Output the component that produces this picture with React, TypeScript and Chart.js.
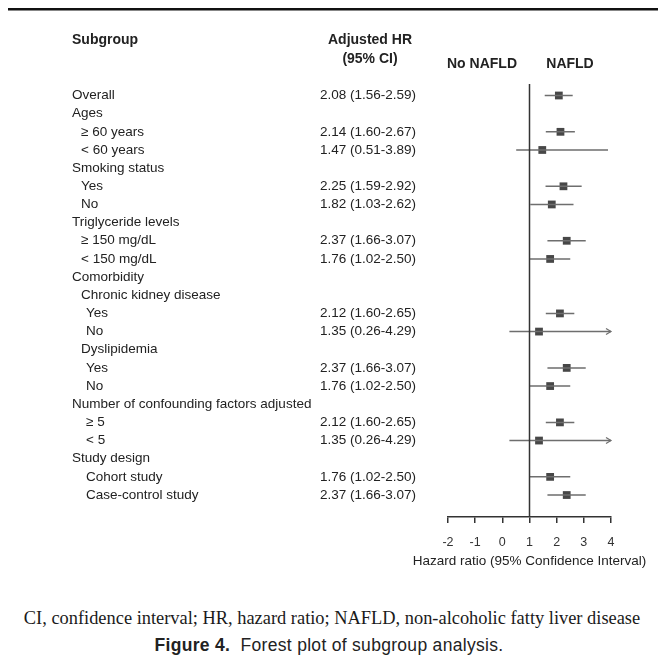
import { useEffect, useRef } from "react";
import { Chart, registerables } from "chart.js";

Chart.register(...registerables);

// ---------- data ----------
const subgroupLabels = [
  "Overall",
  "Ages",
  "≥ 60 years",
  "< 60 years",
  "Smoking status",
  "Yes",
  "No",
  "Triglyceride levels",
  "≥ 150 mg/dL",
  "< 150 mg/dL",
  "Comorbidity",
  "Chronic kidney disease",
  "Yes",
  "No",
  "Dyslipidemia",
  "Yes",
  "No",
  "Number of confounding factors adjusted",
  "≥ 5",
  "< 5",
  "Study design",
  "Cohort study",
  "Case-control study",
];
const indentLevels = [0, 0, 1, 1, 0, 1, 1, 0, 1, 1, 0, 1, 2, 2, 1, 2, 2, 0, 2, 2, 0, 2, 2];
const hrValues: (number | null)[] = [
  2.08, null, 2.14, 1.47, null, 2.25, 1.82, null, 2.37, 1.76, null, null,
  2.12, 1.35, null, 2.37, 1.76, null, 2.12, 1.35, null, 1.76, 2.37,
];
const ciLower: (number | null)[] = [
  1.56, null, 1.6, 0.51, null, 1.59, 1.03, null, 1.66, 1.02, null, null,
  1.6, 0.26, null, 1.66, 1.02, null, 1.6, 0.26, null, 1.02, 1.66,
];
const ciUpper: (number | null)[] = [
  2.59, null, 2.67, 3.89, null, 2.92, 2.62, null, 3.07, 2.5, null, null,
  2.65, 4.29, null, 3.07, 2.5, null, 2.65, 4.29, null, 2.5, 3.07,
];
const xAxisMin = -2;
const xAxisMax = 4;
const xTickStep = 1;
const referenceValue = 1;
const headerSubgroup = "Subgroup";
const headerHR = ["Adjusted HR", "(95% CI)"];
const headerLeftGroup = "No NAFLD";
const headerRightGroup = "NAFLD";
const xAxisTitle = "Hazard ratio (95% Confidence Interval)";
const footnote = "CI, confidence interval; HR, hazard ratio; NAFLD, non-alcoholic fatty liver disease";
const captionBold = "Figure 4.";
const captionText = "Forest plot of subgroup analysis.";

// ---------- styling / layout ----------
const FONT = "'Liberation Sans', Arial, Helvetica, sans-serif";
const TEXT_COLOR = "#222";
const CI_COLOR = "#6e6e6e";
const MARK_COLOR = "#474747";
const AXIS_COLOR = "#333";
const Y_MIN = -0.633;
const Y_MAX = 23.21;
const INDENT_PX = [72, 81, 86];
const VALUE_X = 320;

const fmt = (v: number) => v.toFixed(2);

const forestTablePlugin = {
  id: "forestTable",
  afterDatasetsDraw(chart: any) {
    const { ctx, scales } = chart;
    const x = scales.x;
    const y = scales.y;
    ctx.save();
    ctx.strokeStyle = CI_COLOR;
    ctx.lineWidth = 1.2;
    hrValues.forEach((hr, i) => {
      if (hr == null) return;
      const up = ciUpper[i] as number;
      const py = y.getPixelForValue(i);
      if (up > x.max) {
        const px = x.getPixelForValue(x.max);
        ctx.beginPath();
        ctx.moveTo(px - 5, py - 3);
        ctx.lineTo(px, py);
        ctx.lineTo(px - 5, py + 3);
        ctx.stroke();
      }
      const lo = ciLower[i] as number;
      if (lo < x.min) {
        const px = x.getPixelForValue(x.min);
        ctx.beginPath();
        ctx.moveTo(px + 5, py - 3);
        ctx.lineTo(px, py);
        ctx.lineTo(px + 5, py + 3);
        ctx.stroke();
      }
    });
    ctx.restore();
  },
  afterDraw(chart: any) {
    const { ctx, scales, chartArea } = chart;
    const y = scales.y;
    ctx.save();
    // top rule
    ctx.fillStyle = "#111";
    ctx.fillRect(8, 8, 650, 2.5);

    // headers
    ctx.fillStyle = TEXT_COLOR;
    ctx.font = `bold 14px ${FONT}`;
    ctx.textBaseline = "alphabetic";
    ctx.textAlign = "left";
    ctx.fillText(headerSubgroup, 72, 44);
    ctx.textAlign = "center";
    ctx.fillText(headerHR[0], 370, 44);
    ctx.fillText(headerHR[1], 370, 62.5);
    ctx.fillText(headerLeftGroup, 482, 68);
    ctx.fillText(headerRightGroup, 570, 68);

    // axis title
    ctx.font = `13.5px ${FONT}`;
    ctx.textBaseline = "middle";
    ctx.fillText(xAxisTitle, (chartArea.left + chartArea.right) / 2, chartArea.bottom + 44);

    // rows
    subgroupLabels.forEach((label, i) => {
      const py = y.getPixelForValue(i);
      ctx.textAlign = "left";
      ctx.fillText(label, INDENT_PX[indentLevels[i]], py);
      const hr = hrValues[i];
      if (hr != null) {
        const txt = `${fmt(hr)} (${fmt(ciLower[i] as number)}-${fmt(ciUpper[i] as number)})`;
        ctx.fillText(txt, VALUE_X, py);
      }
    });
    ctx.restore();
  },
};

export default function App() {
  const canvasRef = useRef<HTMLCanvasElement | null>(null);

  useEffect(() => {
    if (!canvasRef.current) return;

    const ciData: any[] = [];
    const markData: any[] = [];
    hrValues.forEach((hr, i) => {
      if (hr == null) return;
      ciData.push({ x: ciLower[i], y: i });
      ciData.push({ x: ciUpper[i], y: i });
      ciData.push({ x: ciUpper[i], y: null });
      markData.push({ x: hr, y: i });
    });

    const chart = new Chart(canvasRef.current, {
      type: "scatter",
      data: {
        datasets: [
          {
            type: "line",
            data: [
              { x: referenceValue, y: Y_MIN },
              { x: referenceValue, y: Y_MAX },
            ],
            borderColor: AXIS_COLOR,
            borderWidth: 1.5,
            pointRadius: 0,
            clip: false,
          } as any,
          {
            type: "line",
            data: ciData,
            borderColor: CI_COLOR,
            borderWidth: 1.5,
            pointRadius: 0,
            spanGaps: false,
          } as any,
          {
            type: "scatter",
            data: markData,
            pointStyle: "rect",
            pointRadius: 5.5,
            pointBackgroundColor: MARK_COLOR,
            pointBorderWidth: 0,
            borderWidth: 0,
          } as any,
        ],
      },
      options: {
        animation: false,
        responsive: false,
        maintainAspectRatio: false,
        devicePixelRatio: 1,
        layout: { padding: { left: 448, right: 47, top: 84, bottom: 33 } },
        plugins: {
          legend: { display: false },
          tooltip: { enabled: false },
          title: { display: false },
        },
        scales: {
          x: {
            type: "linear",
            min: xAxisMin,
            max: xAxisMax,
            afterFit: (scale: any) => {
              scale.height = 40;
            },
            ticks: {
              stepSize: xTickStep,
              color: AXIS_COLOR,
              font: { family: FONT, size: 12.5 },
              padding: 12,
            },
            grid: {
              drawOnChartArea: false,
              drawTicks: true,
              tickLength: 6,
              color: AXIS_COLOR,
              lineWidth: 1.5,
            },
            border: { color: AXIS_COLOR, width: 1.5 },
            title: { display: false },
          },
          y: {
            type: "linear",
            reverse: true,
            min: Y_MIN,
            max: Y_MAX,
            display: false,
          },
        },
      },
      plugins: [forestTablePlugin],
    });

    return () => chart.destroy();
  }, []);

  return (
    <div
      style={{
        position: "absolute",
        left: 0,
        top: 0,
        width: 658,
        height: 662,
        background: "#fff",
        overflow: "hidden",
      }}
    >
      <canvas
        ref={canvasRef}
        width={658}
        height={590}
        style={{ position: "absolute", left: 0, top: 0, width: 658, height: 590 }}
      />
      <div
        style={{
          position: "absolute",
          left: 0,
          top: 607,
          width: 664,
          textAlign: "center",
          fontFamily: "'Liberation Serif', 'Times New Roman', serif",
          fontSize: 18.4,
          lineHeight: "22px",
          color: "#1a1a1a",
          whiteSpace: "nowrap",
        }}
      >
        {footnote}
      </div>
      <div
        style={{
          position: "absolute",
          left: 0,
          top: 634,
          width: 658,
          textAlign: "center",
          fontFamily: FONT,
          fontSize: 17.5,
          letterSpacing: 0.3,
          lineHeight: "22px",
          color: "#222",
          whiteSpace: "pre",
        }}
      >
        <span style={{ fontWeight: "bold" }}>{captionBold}</span>
        <span>{"  " + captionText}</span>
      </div>
    </div>
  );
}
